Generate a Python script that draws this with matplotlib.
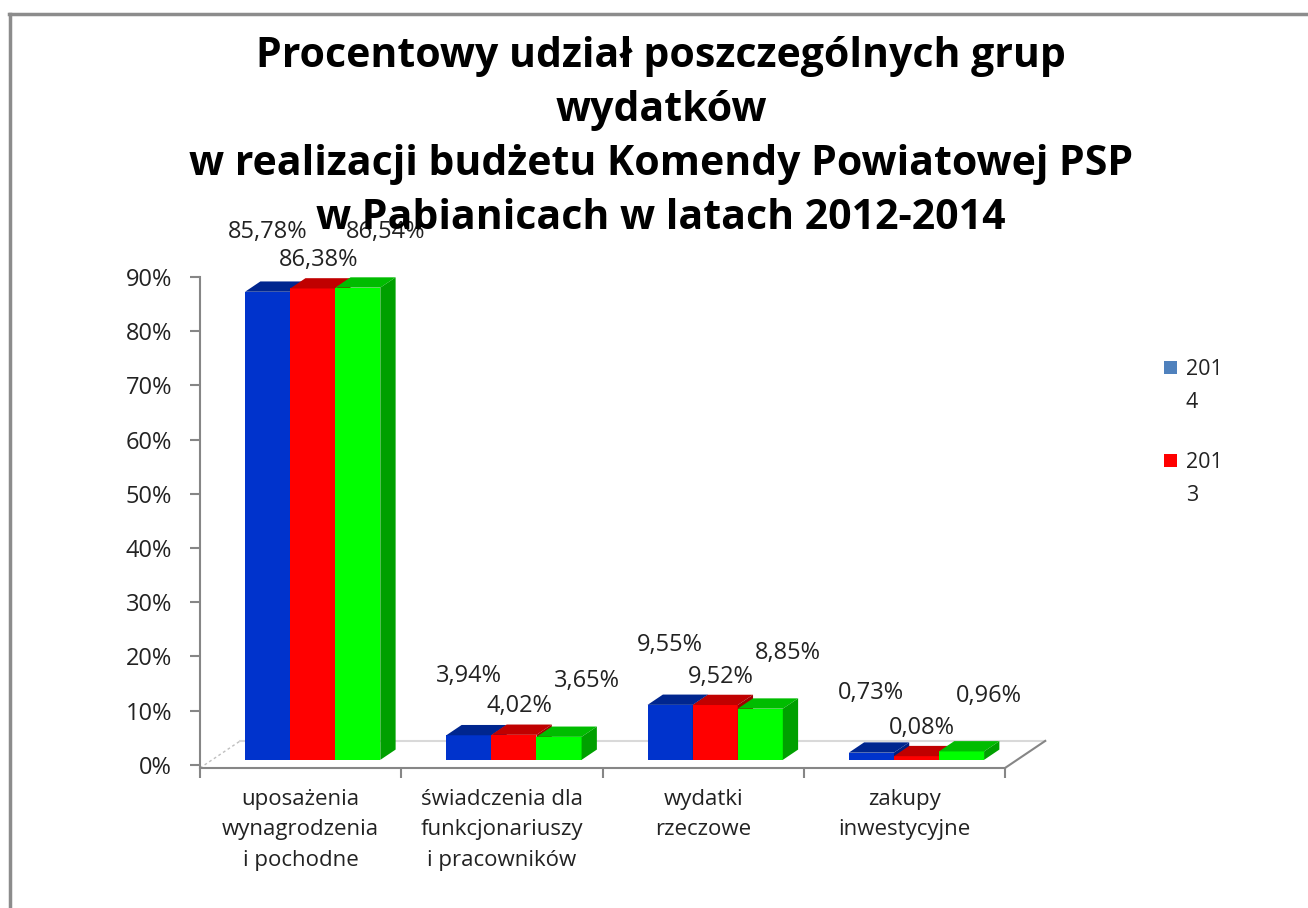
import matplotlib.pyplot as plt
from matplotlib.patches import Polygon, Rectangle
from matplotlib.lines import Line2D

plt.rcParams['font.family'] = ['Open Sans', 'DejaVu Sans']

categories = ['uposażenia\nwynagrodzenia\ni pochodne',
              'świadczenia dla\nfunkcjonariuszy\ni pracowników',
              'wydatki\nrzeczowe',
              'zakupy\ninwestycyjne']
years = ['2014', '2013', '2012']
v2014 = [85.78, 3.94, 9.55, 0.73]
v2013 = [86.38, 4.02, 9.52, 0.08]
v2012 = [86.54, 3.65, 8.85, 0.96]
series = [v2014, v2013, v2012]
yticks = [0, 10, 20, 30, 40, 50, 60, 70, 80, 90]

# front, top, side colours per series
faces = [('#0033CC', '#00268F', '#002080'),
         ('#FF0000', '#C00000', '#A00000'),
         ('#00FF00', '#00BC00', '#00A000')]
legend_cols = ['#4F81BD', '#FF0000']
# label offsets (points) per series
lab_off = [(0, 43), (4, 20.5), (20, 40)]

W, H = 13.08, 9.08
fig = plt.figure(figsize=(W, H), dpi=100)

# axes placed in pixel coords
x0, x1 = 200, 1005
ytop, ybot = 277, 768
ax = fig.add_axes([x0 / 1308, (908 - ybot) / 908, (x1 - x0) / 1308, (ybot - ytop) / 908])
floor = -0.6
ax.set_xlim(-0.5, 3.5)
ax.set_ylim(floor, 90)

DX, DY = 0.2, 5.0          # depth vector (data units)
f0, f1 = 0.3, 0.68         # bar depth range
bw = 0.224


def P(x, v, f):
    return (x + f * DX, v + f * DY)


# floor edges
ax.add_line(Line2D(*zip(P(-0.5, floor, 1), P(3.5, floor, 1)), color='#D9D9D9', lw=1.5, clip_on=False, zorder=1))
ax.add_line(Line2D(*zip(P(-0.5, floor, 0), P(-0.5, floor, 1)), color='#BFBFBF', lw=1, ls=(0, (2, 2)), clip_on=False, zorder=1))
ax.add_line(Line2D(*zip(P(3.5, floor, 0), P(3.5, floor, 1)), color='#868686', lw=1.5, clip_on=False, zorder=1))

for s, vals in enumerate(series):
    front, top, side = faces[s]
    for i, v in enumerate(vals):
        xl = i - 1.5 * bw + s * bw
        xr = xl + bw
        z = 3 + i * 3 + s
        ax.add_patch(Polygon([P(xl, floor, f0), P(xr, floor, f0), P(xr, v, f0), P(xl, v, f0)],
                             closed=True, fc=front, ec='none', clip_on=False, zorder=z))
        ax.add_patch(Polygon([P(xl, v, f0), P(xr, v, f0), P(xr, v, f1), P(xl, v, f1)],
                             closed=True, fc=top, ec='none', clip_on=False, zorder=z))
        ax.add_patch(Polygon([P(xr, floor, f0), P(xr, floor, f1), P(xr, v, f1), P(xr, v, f0)],
                             closed=True, fc=side, ec='none', clip_on=False, zorder=z))
        cx, cy = P(xl + bw / 2, v, f0)
        ax.annotate(('%.2f%%' % v).replace('.', ','), (cx, cy), xytext=lab_off[s],
                    textcoords='offset points', ha='center', va='center',
                    fontsize=17, color='#222222', zorder=30, annotation_clip=False)

for sp in ['top', 'right']:
    ax.spines[sp].set_visible(False)
for sp in ['left', 'bottom']:
    ax.spines[sp].set_color('#868686')
    ax.spines[sp].set_linewidth(1.5)
ax.set_yticks(yticks)
ax.set_yticklabels(['%d%%' % t for t in yticks], fontsize=17, color='#222222')
ax.set_xticks(range(len(categories)))
ax.set_xticklabels(categories, fontsize=16, color='#222222', linespacing=1.59)
ax.set_xticks([-0.5, 0.5, 1.5, 2.5, 3.5], minor=True)
ax.tick_params(axis='x', which='major', length=0, pad=15)
ax.tick_params(axis='x', which='minor', length=7, width=1.5, color='#868686')
ax.tick_params(axis='y', length=7, width=1.5, color='#868686', pad=13)
ax.patch.set_alpha(0)

# title
fig.text(661 / 1308, 1 - 36 / 908,
         'Procentowy udział poszczególnych grup\nwydatków\n'
         'w realizacji budżetu Komendy Powiatowej PSP\nw Pabianicach w latach 2012-2014',
         ha='center', va='top', fontsize=29.5, fontweight='bold', linespacing=1.42, zorder=50)

# legend (only two entries shown)
for k, (lab, col) in enumerate(zip(years[:2], legend_cols)):
    yy = 367 + k * 93
    fig.patches.append(Rectangle((1164 / 1308, 1 - (yy + 7) / 908), 13 / 1308, 13 / 908,
                                 transform=fig.transFigure, fc=col, ec='none'))
    fig.text(1186 / 1308, 1 - (yy - 8) / 908, lab[:3] + '\n' + lab[3:], ha='left', va='top',
             fontsize=15.5, color='#222222', linespacing=1.72)

# outer frame (top and left)
fig.add_artist(Line2D([9 / 1308, 1], [1 - 14 / 908] * 2, transform=fig.transFigure, color='#8C8C8C', lw=2.5))
fig.add_artist(Line2D([10 / 1308] * 2, [0, 1 - 14 / 908], transform=fig.transFigure, color='#8C8C8C', lw=2.5))

fig.savefig('out.png', dpi=100)
